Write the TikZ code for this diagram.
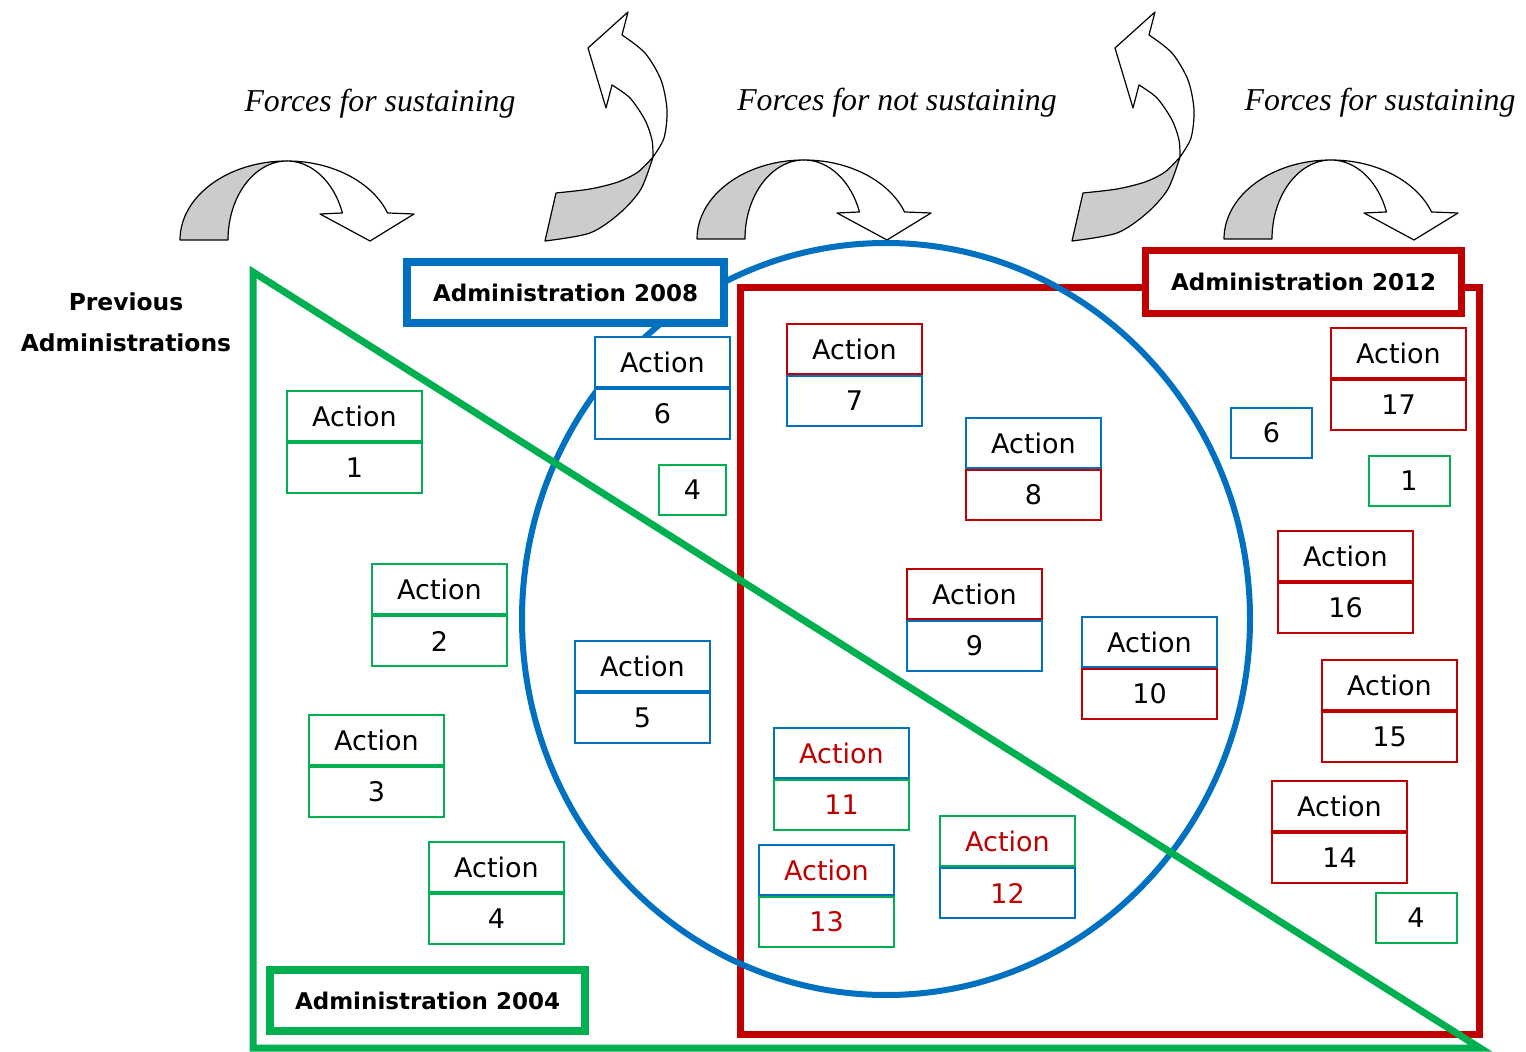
\documentclass[tikz,border=0pt]{standalone}
\usepackage{fontspec}
\newfontfamily\dejavu{DejaVu Sans}
\newfontfamily\seriffont{Liberation Serif}
\usetikzlibrary{positioning}

\definecolor{admgreen}{HTML}{00B050}
\definecolor{admblue}{HTML}{0070C0}
\definecolor{admred}{HTML}{C00000}
\definecolor{arrowgray}{HTML}{CCCCCC}

\tikzset{
  actcell/.style={fill=white, line width=1pt, minimum width=67.5pt, minimum height=25pt,
    inner sep=0pt, font=\dejavu\fontsize{13.5}{16}\selectfont},
  numcell/.style={fill=white, line width=1pt, minimum height=25pt,
    inner sep=0pt, font=\dejavu\fontsize{13.5}{16}\selectfont},
  admbox/.style={fill=white, line width=3.8pt, inner sep=0pt,
    font=\dejavu\bfseries\fontsize{11.5}{14}\selectfont},
  forcelabel/.style={font=\seriffont\itshape\fontsize{15.9}{18}\selectfont},
  arrowline/.style={draw=black, line width=0.6pt, line join=round},
  % curved arrow bending over and pointing down
  downarc/.pic={
    \filldraw[arrowline, fill=arrowgray] (-107,0)
      arc[start angle=180, end angle=270, x radius=107, y radius=79]
      arc[start angle=270, end angle=180, x radius=59, y radius=79] -- cycle;
    \filldraw[arrowline, fill=white] (0,-79)
      arc[start angle=270, end angle=340, x radius=107, y radius=79]
      -- (127,-26) -- (83,1) -- (33,-26) -- (55.44,-27.02)
      arc[start angle=340, end angle=270, x radius=59, y radius=79] -- cycle;
  },
  % curved arrow turning upwards and pointing back
  uparc/.pic={
    \filldraw[arrowline, fill=arrowgray] (545,241) -- (556,193)
      -- plot[smooth] coordinates {(556,193) (590,189) (618,182) (638,172) (653,157)}
      -- plot[smooth] coordinates {(653,157) (641,189) (620,213) (590,233) (545,241)}
      -- cycle;
    \filldraw[arrowline, fill=white] (653,157)
      -- plot[smooth] coordinates {(653,157) (652,140) (645,120) (630,98) (612,85)}
      -- (606,108) -- (588,48) -- (628,12) -- (622,35)
      -- plot[smooth] coordinates {(622,35) (645,53) (661,80) (667,110) (664,138) (653,157)}
      -- cycle;
  }
}

% two-row action box: name, x, y (top left), top colour, bottom colour, text colour, number
\newcommand\actbox[7]{%
  \node[actcell, draw=#4, text=#6, anchor=north west] (#1t) at (#2,#3) {Action};
  \node[actcell, draw=#5, text=#6, anchor=north] (#1b) at (#1t.south) {#7};
}

\begin{document}
\begin{tikzpicture}[x=0.5pt, y=-0.5pt]
  \useasboundingbox[fill=white] (0,0) rectangle (1526,1052);

  % curved arrows along the top
  \pic at (287,240) {downarc};
  \pic at (804,239) {downarc};
  \pic at (1331,239) {downarc};
  \pic at (0,0) {uparc};
  \pic at (527,0) {uparc};

  \node[forcelabel] (f1) at (380,104) {Forces for sustaining};
  \node[forcelabel] (f2) at (897,103) {Forces for not sustaining};
  \node[forcelabel] (f3) at (1380,103) {Forces for sustaining};

  % administration regions
  \draw[admred, line width=3.5pt] (740,288) rectangle (1479,1034);
  \draw[admblue, line width=3pt] (886,619) ellipse [x radius=364, y radius=376];
  \draw[admgreen, line width=3.5pt, line join=miter] (253,272) -- (253,1048) -- (1480,1048) -- cycle;

  \node[align=center, font=\dejavu\bfseries\fontsize{11.7}{20.5}\selectfont] (prev) at (126,322)
    {Previous\\Administrations};

  \node[admbox, draw=admblue, minimum width=158.5pt, minimum height=30.5pt] (adm08) at (565.5,292.5) {Administration 2008};
  \node[admbox, draw=admred, minimum width=158pt, minimum height=31.5pt] (adm12) at (1303.5,282) {Administration 2012};
  \node[admbox, draw=admgreen, minimum width=157.5pt, minimum height=30.5pt] (adm04) at (427.5,1000.5) {Administration 2004};

  % actions
  \actbox{a1}{286}{390}{admgreen}{admgreen}{black}{1}
  \actbox{a2}{371}{563}{admgreen}{admgreen}{black}{2}
  \actbox{a3}{308}{714}{admgreen}{admgreen}{black}{3}
  \actbox{a4}{428}{841}{admgreen}{admgreen}{black}{4}
  \actbox{a5}{574}{640}{admblue}{admblue}{black}{5}
  \actbox{a6}{594}{336}{admblue}{admblue}{black}{6}
  \actbox{a7}{786}{323}{admred}{admblue}{black}{7}
  \actbox{a8}{965}{417}{admblue}{admred}{black}{8}
  \actbox{a9}{906}{568}{admred}{admblue}{black}{9}
  \actbox{a10}{1081}{616}{admblue}{admred}{black}{10}
  \actbox{a11}{773}{727}{admblue}{admgreen}{admred}{11}
  \actbox{a12}{939}{815}{admgreen}{admblue}{admred}{12}
  \actbox{a13}{758}{844}{admblue}{admgreen}{admred}{13}
  \actbox{a14}{1271}{780}{admred}{admred}{black}{14}
  \actbox{a15}{1321}{659}{admred}{admred}{black}{15}
  \actbox{a16}{1277}{530}{admred}{admred}{black}{16}
  \actbox{a17}{1330}{327}{admred}{admred}{black}{17}

  % carried-over actions
  \node[numcell, draw=admgreen, minimum width=33.5pt] (n4a) at (692.5,490) {4};
  \node[numcell, draw=admblue, minimum width=40.5pt] (n6) at (1271.5,433) {6};
  \node[numcell, draw=admgreen, minimum width=40.5pt] (n1) at (1409,481) {1};
  \node[numcell, draw=admgreen, minimum width=40.5pt] (n4b) at (1416,918) {4};
\end{tikzpicture}
\end{document}
